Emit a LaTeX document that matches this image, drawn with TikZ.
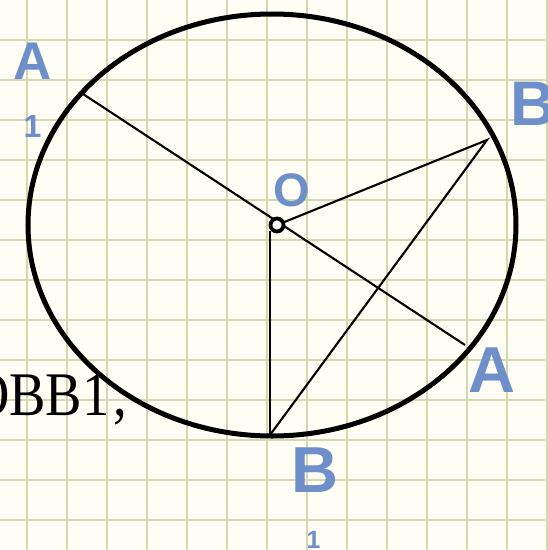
\documentclass[tikz,border=0pt]{standalone}
\usepackage{fontspec}
\setmainfont{Liberation Serif}
\newfontfamily\labelfont{Liberation Sans}
\definecolor{paper}{RGB}{254,254,245}
\definecolor{gridc}{RGB}{212,215,176}
\definecolor{lblue}{RGB}{110,143,201}
\tikzset{
  gridline/.style={draw=gridc, line width=1.8pt},
  rim/.style={draw=black, line width=5pt},
  seg/.style={draw=black, line width=2.1pt},
  lbl/.style={text=lblue, inner sep=0pt, anchor=base, font=\labelfont\bfseries},
  ctr/.style={circle, draw=black, fill=white, line width=3.8pt, minimum size=13pt, inner sep=0pt}
}
\begin{document}
\begin{tikzpicture}[x=1pt,y=-1pt]
\useasboundingbox (0,0) rectangle (548,550);
\clip (0,0) rectangle (548,550);
\fill[paper] (0,0) rectangle (548,550);
\foreach \i in {0,...,13} {\draw[gridline] (27+40*\i,0) -- (27+40*\i,550);}
\foreach \j in {1,...,13} {\draw[gridline] (0,40*\j) -- (548,40*\j);}
\node[anchor=base west, inner sep=0pt, font=\fontsize{62}{62}\selectfont] (txt) at (-30,415) {\scalebox{0.88}[1]{OBB1\kern4pt,}};
\draw[rim] (272,225) ellipse [x radius=244, y radius=211];
\coordinate (O) at (277,225);
\coordinate (A1) at (80,92);
\coordinate (A) at (465,345);
\coordinate (B) at (487,140);
\coordinate (B1) at (270,435);
\draw[seg] (A1) -- (A);
\draw[seg] (O) -- (B) -- (B1);
\draw[seg] (270,231) -- (B1);
\node[ctr] (Oc) at (O) {};
\node[lbl, font=\labelfont\bfseries\fontsize{53}{53}\selectfont] (lA1) at (32.5,79) {A};
\node[lbl, font=\labelfont\bfseries\fontsize{32}{32}\selectfont] (lA1s) at (32.5,137) {1};
\node[lbl, font=\labelfont\bfseries\fontsize{47}{47}\selectfont] (lO) at (292,206) {O};
\node[lbl, anchor=base west, font=\labelfont\bfseries\fontsize{63}{63}\selectfont] (lB) at (510,125) {B};
\node[lbl, font=\labelfont\bfseries\fontsize{65}{65}\selectfont] (lA) at (491.5,392) {A};
\node[lbl, font=\labelfont\bfseries\fontsize{65}{65}\selectfont] (lB1) at (315,492) {B};
\node[lbl, font=\labelfont\bfseries\fontsize{25}{25}\selectfont] (lB1s) at (313.5,548) {1};
\end{tikzpicture}
\end{document}
